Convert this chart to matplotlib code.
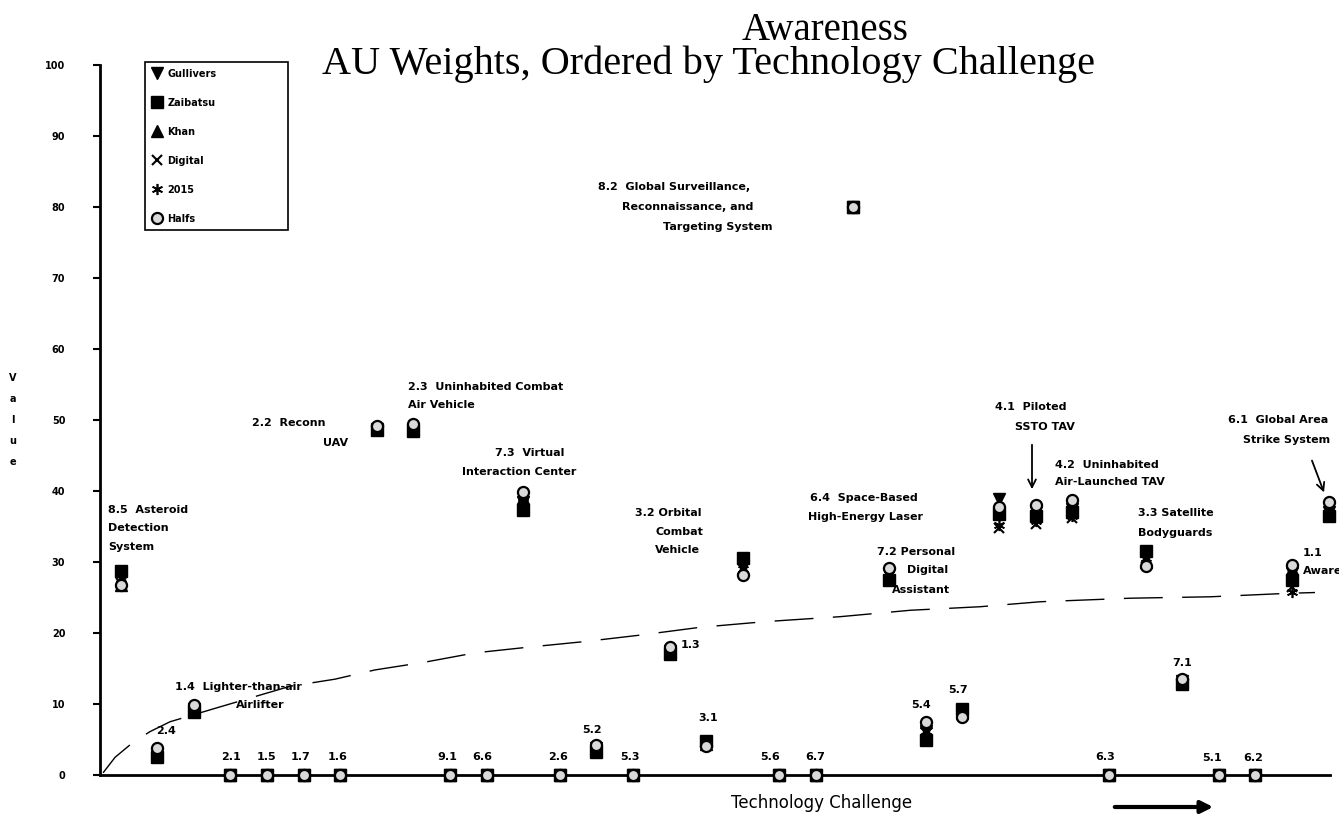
import numpy as np
import matplotlib
matplotlib.use("Agg")
import matplotlib.pyplot as plt

plt.rcParams['font.family'] = ['DejaVu Sans']

# technologies, in order of technology challenge (rank 1..34)
techs = ["8.5", "2.4", "1.4", "2.1", "1.5", "1.7", "1.6", "2.2", "2.3", "9.1",
         "6.6", "7.3", "2.6", "5.2", "5.3", "1.3", "3.1", "3.2", "5.6", "6.7",
         "8.2", "7.2", "5.4", "5.7", "6.4", "4.1", "4.2", "6.3", "3.3", "7.1",
         "5.1", "6.2", "1.1", "6.1"]
rank = np.arange(1, len(techs) + 1)

gullivers = [28.0, 3.0, 9.3, 0, 0, 0, 0, 48.8, 48.8, 0,
             0, 38.5, 0, 3.8, 0, 17.5, 4.4, 29.5, 0, 0,
             80.0, 28.3, 6.2, 8.8, 38.9, 37.0, 37.5, 0, 30.5, 13.2,
             0, 0, 28.5, 37.0]
zaibatsu = [28.7, 2.5, 8.9, 0, 0, 0, 0, 48.6, 48.5, 0,
            0, 37.3, 0, 3.3, 0, 17.0, 4.8, 30.6, 0, 0,
            80.0, 27.5, 4.9, 9.3, 36.8, 36.5, 37.0, 0, 31.6, 12.8,
            0, 0, 27.5, 36.5]
khan = [26.8, 3.7, 9.3, 0, 0, 0, 0, 48.8, 48.8, 0,
        0, 39.0, 0, 3.8, 0, 17.5, 4.4, 29.0, 0, 0,
        80.0, 28.3, 7.4, 8.8, 37.5, 37.3, 37.5, 0, 30.0, 13.2,
        0, 0, 29.0, 37.0]
digital = [27.0, 3.0, 9.3, 0, 0, 0, 0, 48.8, 48.8, 0,
           0, 38.5, 0, 3.8, 0, 17.5, 4.4, 29.0, 0, 0,
           80.0, 28.3, 6.2, 8.8, 34.8, 35.3, 36.2, 0, 30.5, 13.2,
           0, 0, 26.5, 37.0]
y2015 = [27.0, 3.0, 9.3, 0, 0, 0, 0, 48.8, 48.8, 0,
         0, 38.5, 0, 3.8, 0, 17.5, 4.4, 29.0, 0, 0,
         80.0, 28.3, 6.2, 8.8, 35.2, 35.8, 36.5, 0, 30.5, 13.2,
         0, 0, 25.8, 37.0]
halfs = [26.8, 3.8, 9.8, 0, 0, 0, 0, 49.2, 49.5, 0,
         0, 39.8, 0, 4.2, 0, 18.0, 4.1, 28.2, 0, 0,
         80.0, 29.2, 7.5, 8.2, 37.7, 38.0, 38.8, 0, 29.4, 13.5,
         0, 0, 29.6, 38.5]

# dashed trend curve (x in rank units)
trend_x = [0.52, 0.85, 1.34, 1.80, 2.35, 3.72, 5.63, 6.86, 7.95, 9.32, 10.68,
           12.13, 13.69, 15.19, 16.83, 18.61, 20.66, 22.57, 24.48, 26.12,
           28.58, 30.77, 32.95, 33.63]
trend_y = [0.3, 2.5, 4.6, 6.1, 7.5, 9.6, 12.5, 13.5, 14.8, 15.9, 17.2,
           18.0, 18.8, 19.7, 20.8, 21.6, 22.3, 23.2, 23.7, 24.4,
           24.9, 25.1, 25.6, 25.7]

W, H = 1339, 816
fig = plt.figure(figsize=(W / 100, H / 100), dpi=100)


def fx(x):
    return x / W


def fy(y):
    return 1 - y / H


ax = fig.add_axes([fx(100), fy(775), fx(1330) - fx(100), fy(65) - fy(775)])
ax.set_xlim(0.437, 34.04)
ax.set_ylim(0, 100)

ax.plot(trend_x, trend_y, color='black', lw=1, dashes=(28, 14), zorder=1)

series = [
    ("Gullivers", gullivers, dict(marker='v', mfc='black', mec='black', ms=8)),
    ("Zaibatsu", zaibatsu, dict(marker='s', mfc='black', mec='black', ms=8)),
    ("Khan", khan, dict(marker='^', mfc='black', mec='black', ms=8)),
    ("Digital", digital, dict(marker='x', mfc='black', mec='black', ms=7, mew=1.5)),
    ("2015", y2015, dict(marker=(6, 2, 0), mfc='black', mec='black', ms=8, mew=1.2)),
    ("Halfs", halfs, dict(marker='o', mfc='#d9d9d9', mec='black', ms=8, mew=1.6)),
]
handles = []
for name, vals, st in series:
    h, = ax.plot(rank, vals, ls='none', label=name, clip_on=False, zorder=3, **st)
    handles.append(h)

for s in ['top', 'right']:
    ax.spines[s].set_visible(False)
ax.spines['left'].set_linewidth(2)
ax.spines['bottom'].set_linewidth(2)
ax.set_xticks([])
ax.set_yticks(range(0, 101, 10))
ax.tick_params(axis='y', direction='out', length=5, width=1.5, pad=20,
               labelsize=7)
for t in ax.get_yticklabels():
    t.set_fontweight('bold')

leg = fig.legend(handles=handles, loc='upper left',
                 bbox_to_anchor=(fx(145), fy(228), fx(288) - fx(145), fy(62) - fy(228)),
                 bbox_transform=fig.transFigure, mode='expand', borderaxespad=0,
                 prop=dict(size=7, weight='bold'), labelspacing=1.95,
                 handlelength=1.0, handletextpad=0.6, borderpad=0.7,
                 fancybox=False, edgecolor='black', framealpha=1)
leg.get_frame().set_linewidth(1.2)

# titles
fig.text(fx(825), fy(40), "Awareness", family='Liberation Serif', size=28,
         ha='center', va='baseline')
fig.text(fx(709), fy(74), "AU Weights, Ordered by Technology Challenge",
         family='Liberation Serif', size=29, ha='center', va='baseline')

fig.text(fx(13), fy(420), "V\na\nl\nu\ne", size=7, weight='bold',
         ha='center', va='center', linespacing=2.4)
fig.text(fx(822), fy(803), "Technology Challenge", size=12,
         ha='center', va='center')

# point labels (text, x px, y px, ha)
labels = [
    ("8.5  Asteroid", 108, 510, 'left'), ("Detection", 108, 528, 'left'),
    ("System", 108, 547, 'left'),
    ("2.4", 166, 731, 'center'),
    ("1.4  Lighter-than-air", 175, 687, 'left'), ("Airlifter", 236, 705, 'left'),
    ("2.2  Reconn", 252, 423, 'left'), ("UAV", 348, 443, 'right'),
    ("2.3  Uninhabited Combat", 408, 387, 'left'), ("Air Vehicle", 408, 405, 'left'),
    ("7.3  Virtual", 495, 453, 'left'), ("Interaction Center", 462, 472, 'left'),
    ("3.2 Orbital", 635, 513, 'left'), ("Combat", 655, 532, 'left'),
    ("Vehicle", 655, 550, 'left'),
    ("8.2  Global Surveillance,", 598, 187, 'left'),
    ("Reconnaissance, and", 622, 207, 'left'),
    ("Targeting System", 663, 227, 'left'),
    ("6.4  Space-Based", 810, 498, 'left'), ("High-Energy Laser", 808, 517, 'left'),
    ("7.2 Personal", 877, 552, 'left'), ("Digital", 907, 570, 'left'),
    ("Assistant", 892, 590, 'left'),
    ("4.1  Piloted", 995, 407, 'left'), ("SSTO TAV", 1015, 427, 'left'),
    ("4.2  Uninhabited", 1055, 465, 'left'), ("Air-Launched TAV", 1055, 482, 'left'),
    ("3.3 Satellite", 1138, 513, 'left'), ("Bodyguards", 1138, 533, 'left'),
    ("6.1  Global Area", 1228, 420, 'left'), ("Strike System", 1243, 440, 'left'),
    ("1.1", 1303, 553, 'left'), ("Awareness", 1303, 571, 'left'),
    ("2.1", 231, 757, 'center'), ("1.5", 267, 757, 'center'),
    ("1.7", 301, 757, 'center'), ("1.6", 338, 757, 'center'),
    ("9.1", 447, 757, 'center'), ("6.6", 482, 757, 'center'),
    ("2.6", 558, 757, 'center'), ("5.2", 592, 730, 'center'),
    ("5.3", 630, 757, 'center'), ("1.3", 691, 645, 'center'),
    ("3.1", 708, 718, 'center'), ("5.6", 770, 757, 'center'),
    ("6.7", 815, 757, 'center'), ("5.4", 921, 705, 'center'),
    ("5.7", 958, 690, 'center'), ("6.3", 1105, 757, 'center'),
    ("7.1", 1182, 663, 'center'), ("5.1", 1212, 758, 'center'),
    ("6.2", 1253, 758, 'center'),
]
for txt, x, y, ha in labels:
    fig.text(fx(x), fy(y), txt, size=8, weight='bold', ha=ha, va='center')

# arrows
arrow = dict(arrowstyle='->', lw=1.3, color='black', mutation_scale=14)
fig.add_artist(matplotlib.patches.FancyArrowPatch((fx(1032), fy(442)), (fx(1032), fy(492)),
                                                   transform=fig.transFigure, **arrow))
fig.add_artist(matplotlib.patches.FancyArrowPatch((fx(1311), fy(458)), (fx(1325), fy(495)),
                                                   transform=fig.transFigure, **arrow))
fig.add_artist(matplotlib.patches.FancyArrowPatch((fx(1112), fy(807)), (fx(1216), fy(807)),
                                                   transform=fig.transFigure,
                                                   arrowstyle='-|>', lw=3, color='black',
                                                   mutation_scale=18))

fig.savefig("out.png", dpi=100)
